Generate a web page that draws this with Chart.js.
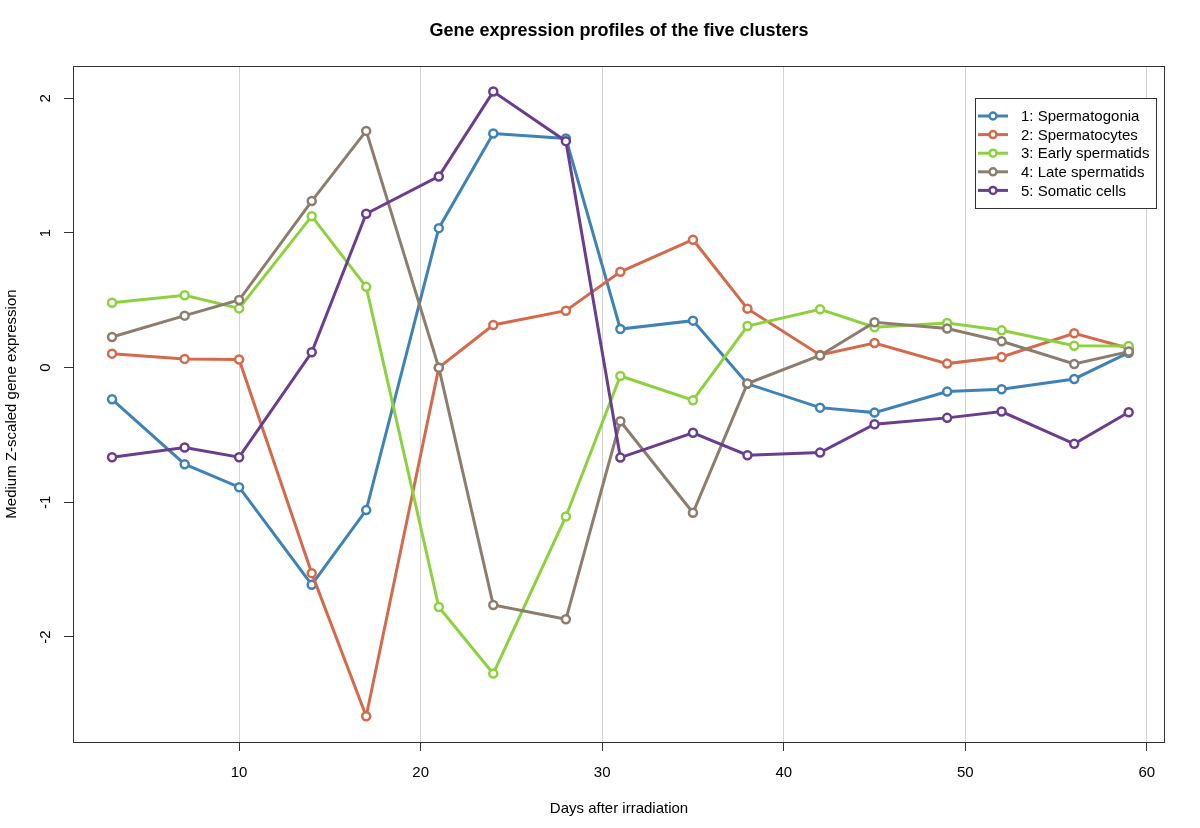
<!DOCTYPE html>
<html>
<head>
<meta charset="utf-8">
<script src="https://cdn.jsdelivr.net/npm/chart.js@4.4.1/dist/chart.umd.min.js"></script>
<style>
  html, body { margin: 0; padding: 0; background: #fff; }
  #wrap { width: 1200px; height: 828px; }
</style>
</head>
<body>
<div id="wrap"><canvas id="chart"></canvas></div>
<script>
// days after irradiation (x) and median Z-scaled expression per cluster
const days = [3, 7, 10, 14, 17, 21, 24, 28, 31, 35, 38, 42, 45, 49, 52, 56, 59];
const spermatogonia = [-0.235, -0.717, -0.888, -1.612, -1.058, 1.036, 1.739, 1.702, 0.287, 0.349, -0.12, -0.297, -0.334, -0.178, -0.16, -0.084, 0.111];
const spermatocytes = [0.104, 0.065, 0.06, -1.526, -2.589, 0.0, 0.317, 0.423, 0.712, 0.95, 0.438, 0.094, 0.183, 0.03, 0.079, 0.255, 0.144];
const earlySpermatids = [0.482, 0.537, 0.44, 1.125, 0.6, -1.778, -2.272, -1.105, -0.062, -0.242, 0.309, 0.433, 0.3, 0.332, 0.277, 0.163, 0.161];
const lateSpermatids = [0.228, 0.386, 0.502, 1.237, 1.758, 0.0, -1.763, -1.869, -0.398, -1.078, -0.118, 0.09, 0.337, 0.29, 0.196, 0.027, 0.119];
const somaticCells = [-0.665, -0.593, -0.665, 0.114, 1.143, 1.42, 2.05, 1.682, -0.668, -0.484, -0.65, -0.631, -0.42, -0.373, -0.326, -0.566, -0.331];
const clusterNames = ["1: Spermatogonia", "2: Spermatocytes", "3: Early spermatids", "4: Late spermatids", "5: Somatic cells"];
const xTicks = [10, 20, 30, 40, 50, 60];
const yTicks = [-2, -1, 0, 1, 2];

const FONT = '"Liberation Sans", Arial, sans-serif';

function series(values, name, color, order) {
  return {
    label: name,
    data: days.map((d, i) => ({ x: d, y: values[i] })),
    borderColor: color,
    backgroundColor: color,
    borderWidth: 3,
    pointRadius: 4,
    pointBorderWidth: 2.5,
    pointBackgroundColor: "#fff",
    pointBorderColor: color,
    tension: 0,
    order: order
  };
}

// box around the plotting region
const frame = {
  id: "frame",
  afterDatasetsDraw(chart) {
    const { ctx, chartArea: a } = chart;
    ctx.save();
    ctx.strokeStyle = "#333";
    ctx.lineWidth = 1;
    ctx.strokeRect(Math.round(a.left) + 0.5, Math.round(a.top) + 0.5, Math.round(a.width) - 1, Math.round(a.height));
    ctx.restore();
  }
};

// R-style legend box in the top right corner
const boxLegend = {
  id: "boxLegend",
  afterDraw(chart) {
    const { ctx, chartArea: a } = chart;
    const left = Math.round(a.right) - 190;
    const top = Math.round(a.top) + 32;
    ctx.save();
    ctx.fillStyle = "#fff";
    ctx.fillRect(left, top, 181, 110);
    ctx.strokeStyle = "#333";
    ctx.lineWidth = 1;
    ctx.strokeRect(left + 0.5, top + 0.5, 181, 110);
    ctx.font = "15px " + FONT;
    ctx.textBaseline = "middle";
    chart.data.datasets.forEach((ds, i) => {
      const y = top + 18 + i * 18.6;
      ctx.strokeStyle = ds.borderColor;
      ctx.lineWidth = 3;
      ctx.beginPath();
      ctx.moveTo(left + 3, y);
      ctx.lineTo(left + 33, y);
      ctx.stroke();
      ctx.beginPath();
      ctx.arc(left + 18, y, 3.5, 0, Math.PI * 2);
      ctx.fillStyle = "#fff";
      ctx.fill();
      ctx.lineWidth = 2.5;
      ctx.stroke();
      ctx.fillStyle = "#000";
      ctx.fillText(ds.label, left + 46, y + 1);
    });
    ctx.restore();
  }
};

new Chart(document.getElementById("chart"), {
  type: "line",
  data: {
    datasets: [
      series(spermatogonia, clusterNames[0], "#3f82b8", 5),
      series(spermatocytes, clusterNames[1], "#d46a4b", 4),
      series(earlySpermatids, clusterNames[2], "#8dd23e", 3),
      series(lateSpermatids, clusterNames[3], "#8c7d6e", 2),
      series(somaticCells, clusterNames[4], "#6a3e8f", 1)
    ]
  },
  options: {
    responsive: true,
    maintainAspectRatio: false,
    animation: false,
    devicePixelRatio: 1,
    layout: { padding: { left: 0, right: 35, top: 0, bottom: 0 } },
    plugins: {
      legend: { display: false },
      tooltip: { enabled: false },
      title: {
        display: true,
        text: "Gene expression profiles of the five clusters",
        fullSize: false,
        color: "#000",
        font: { family: FONT, size: 18, weight: "bold" },
        padding: { top: 20, bottom: 24.4 }
      }
    },
    scales: {
      x: {
        type: "linear",
        min: 0.85,
        max: 61.0,
        afterBuildTicks: (scale) => { scale.ticks = xTicks.map(v => ({ value: v })); },
        afterFit: (scale) => { scale.height = 86; },
        border: { display: false },
        grid: {
          color: "#d3d3d3",
          lineWidth: 1,
          tickColor: "#333",
          tickLength: 9,
          drawOnChartArea: true
        },
        ticks: {
          color: "#000",
          font: { family: FONT, size: 15 },
          padding: 13,
          maxRotation: 0
        },
        title: {
          display: true,
          text: "Days after irradiation",
          color: "#000",
          font: { family: FONT, size: 15 },
          padding: { top: 0, bottom: 10 }
        }
      },
      y: {
        type: "linear",
        min: -2.78,
        max: 2.24,
        afterBuildTicks: (scale) => { scale.ticks = yTicks.map(v => ({ value: v })); },
        afterFit: (scale) => { scale.width = 73; },
        border: { display: false },
        grid: {
          drawOnChartArea: false,
          tickColor: "#333",
          tickLength: 9
        },
        ticks: {
          color: "#000",
          font: { family: FONT, size: 15 },
          minRotation: 90,
          maxRotation: 90,
          crossAlign: "center",
          padding: 11
        },
        title: {
          display: true,
          text: "Medium Z-scaled gene expression",
          color: "#000",
          font: { family: FONT, size: 15 },
          padding: { top: 3, bottom: 0 }
        }
      }
    }
  },
  plugins: [frame, boxLegend]
});
</script>
</body>
</html>
